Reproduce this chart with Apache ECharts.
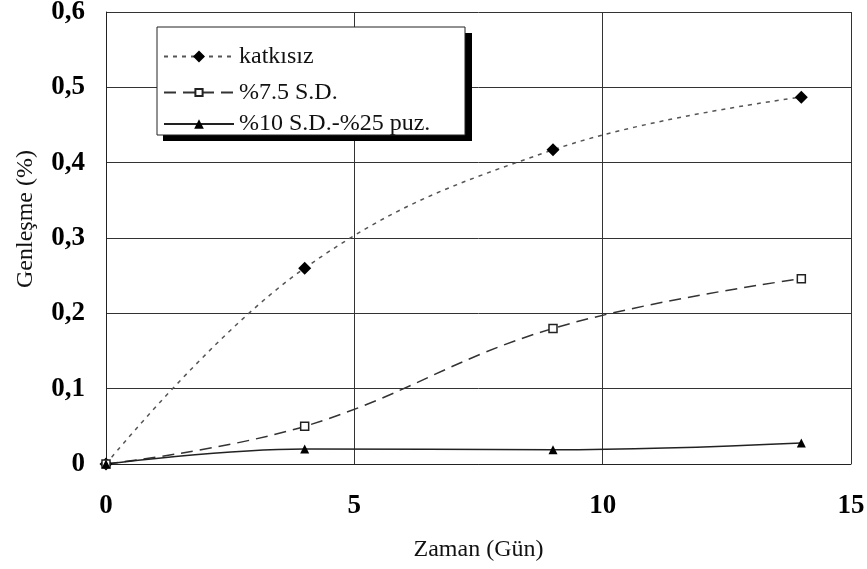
<!DOCTYPE html>
<html>
<head>
<meta charset="utf-8">
<script src="https://cdn.jsdelivr.net/npm/echarts@6/dist/echarts.min.js"></script>
<style>
  html, body { margin: 0; padding: 0; background: #fff; }
  #chart { width: 867px; height: 569px; }
</style>
</head>
<body>
<div id="chart"></div>
<script>
// Days of exposure (x) and expansion in percent (y) for each mix
const days = [0, 4, 9, 14];
const katkisiz = [0, 0.26, 0.417, 0.487];
const sd75 = [0, 0.05, 0.18, 0.246];
const sd10puz25 = [0, 0.02, 0.019, 0.028];
const seriesNames = ['katkısız', '%7.5 S.D.', '%10 S.D.-%25 puz.'];
const xTicks = [0, 5, 10, 15];
const yTicks = [0, 0.1, 0.2, 0.3, 0.4, 0.5, 0.6];

const serif = '"Liberation Serif", "DejaVu Serif", serif';

function pairs(xs, ys) {
  return xs.map((x, i) => [x, ys[i]]);
}

// One legend row per series so each key symbol keeps its own size
function legendRow(name, centerY, itemHeight) {
  return {
    orient: 'vertical',
    left: 163,
    top: centerY - itemHeight / 2,
    z: 10,
    itemWidth: 70,
    itemHeight: itemHeight,
    padding: 0,
    textStyle: { fontFamily: serif, fontSize: 24, color: '#111' },
    data: [name]
  };
}

const chart = echarts.init(document.getElementById('chart'), null, { renderer: 'canvas' });

chart.setOption({
  animation: false,
  backgroundColor: '#ffffff',
  textStyle: { fontFamily: serif },
  grid: {
    left: 106, right: 16, top: 12, bottom: 105,
    containLabel: false,
    outerBoundsMode: 'none'
  },
  xAxis: {
    type: 'value',
    min: xTicks[0],
    max: xTicks[xTicks.length - 1],
    interval: 5,
    name: 'Zaman (Gün)',
    nameLocation: 'middle',
    nameGap: 74,
    nameTextStyle: { fontFamily: serif, fontSize: 24, color: '#111' },
    axisLine: { show: true, lineStyle: { color: '#222', width: 1 } },
    axisTick: { show: false },
    axisLabel: {
      margin: 29,
      fontFamily: serif, fontSize: 27, fontWeight: 'bold', color: '#000'
    },
    splitLine: { show: true, lineStyle: { color: '#333', width: 1 } }
  },
  yAxis: {
    type: 'value',
    min: yTicks[0],
    max: yTicks[yTicks.length - 1],
    interval: 0.1,
    name: 'Genleşme (%)',
    nameLocation: 'middle',
    nameGap: 68,
    nameTextStyle: { fontFamily: serif, fontSize: 24, color: '#111', padding: [0, 0, 0, 38] },
    axisLine: { show: true, lineStyle: { color: '#222', width: 1 } },
    axisTick: { show: false },
    axisLabel: {
      margin: 21,
      fontFamily: serif, fontSize: 27, fontWeight: 'bold', color: '#000',
      formatter: v => (v === 0 ? '0' : v.toFixed(1).replace('.', ','))
    },
    splitLine: { show: true, lineStyle: { color: '#333', width: 1 } }
  },
  legend: [
    legendRow(seriesNames[0], 52, 15),
    legendRow(seriesNames[1], 85, 9),
    legendRow(seriesNames[2], 118, 12)
  ],
  graphic: [
    {
      type: 'rect', z: 3,
      shape: { x: 163, y: 33, width: 309, height: 108 },
      style: { fill: '#000' }
    },
    {
      type: 'rect', z: 4,
      shape: { x: 157, y: 27, width: 308, height: 108 },
      style: { fill: '#fff', stroke: '#222', lineWidth: 1 }
    }
  ],
  series: [
    {
      name: seriesNames[0],
      type: 'line',
      smooth: 0.4,
      data: pairs(days, katkisiz),
      symbol: 'diamond',
      symbolSize: 13,
      itemStyle: { color: '#000' },
      lineStyle: { color: '#555', width: 1.5, type: [4, 5] },
      z: 5
    },
    {
      name: seriesNames[1],
      type: 'line',
      smooth: 0.4,
      data: pairs(days, sd75),
      symbol: 'rect',
      symbolSize: 8,
      itemStyle: { color: '#fff', borderColor: '#222', borderWidth: 1.5 },
      lineStyle: { color: '#333', width: 1.5, type: [12, 7] },
      z: 5
    },
    {
      name: seriesNames[2],
      type: 'line',
      smooth: 0.4,
      data: pairs(days, sd10puz25),
      symbol: 'triangle',
      symbolSize: 9,
      itemStyle: { color: '#000' },
      lineStyle: { color: '#222', width: 1.5 },
      z: 5
    }
  ]
});
</script>
</body>
</html>
